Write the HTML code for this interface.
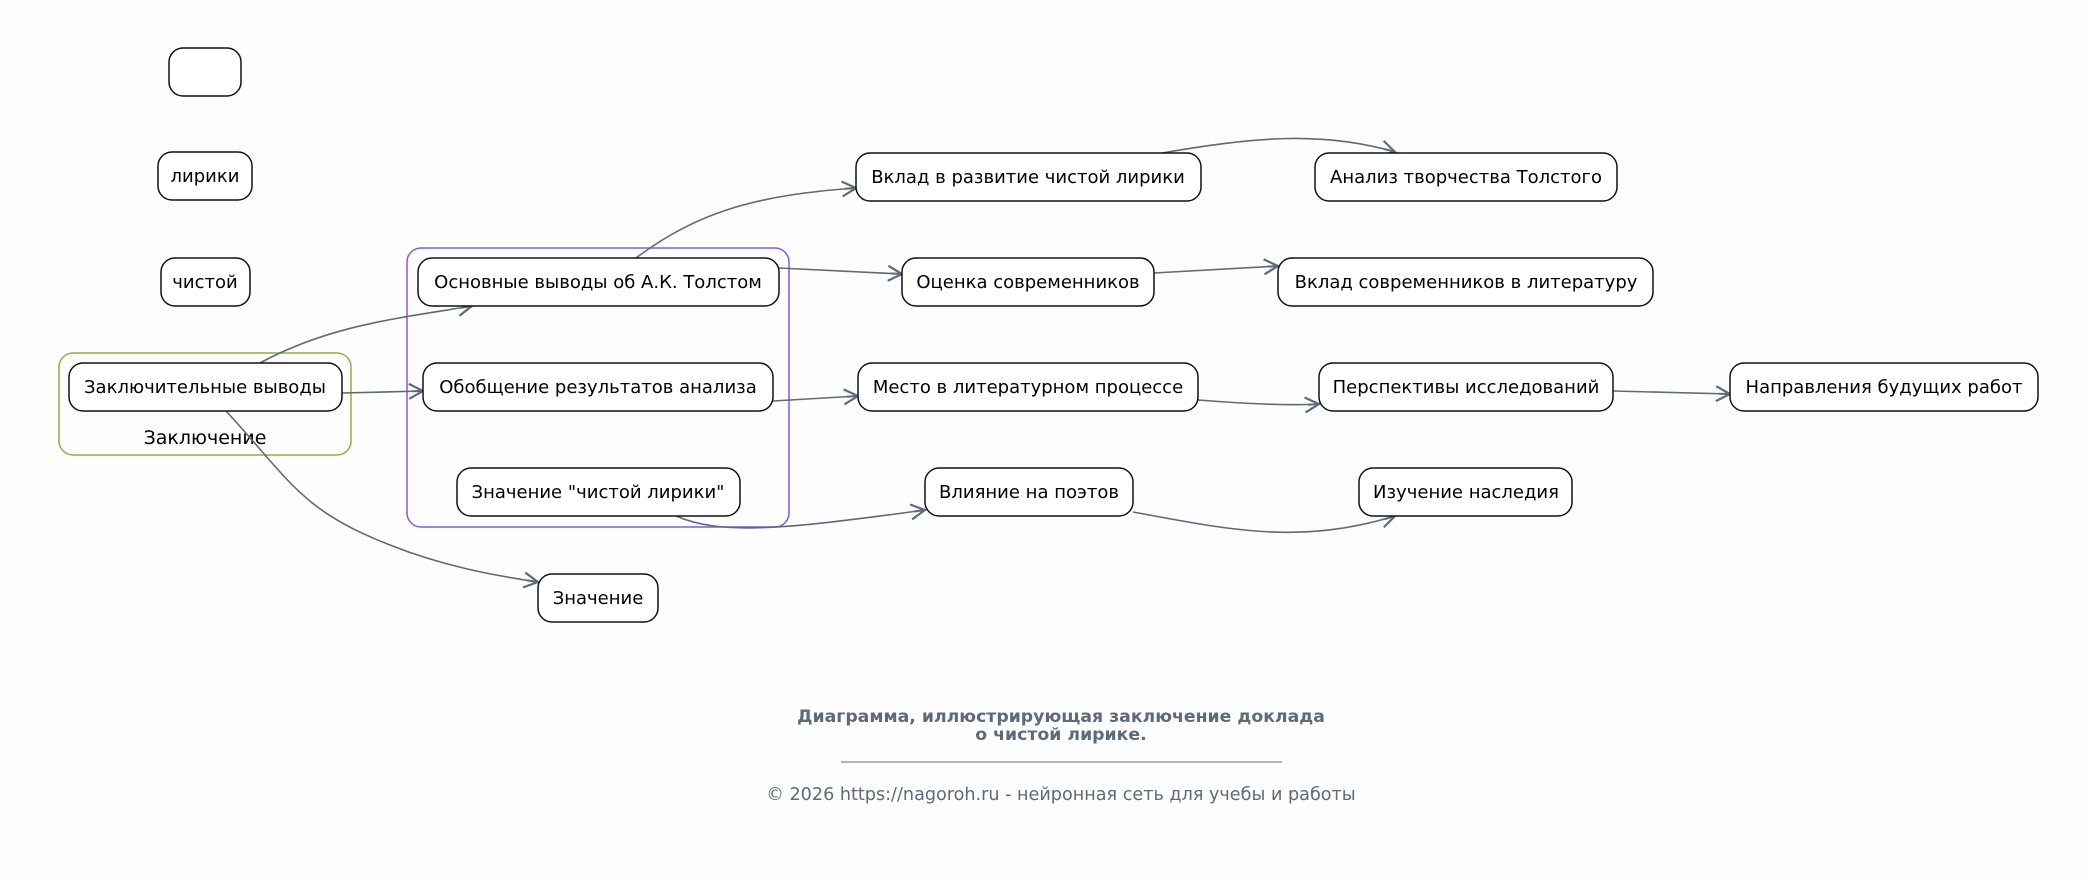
<!DOCTYPE html>
<html><head><meta charset="utf-8"><style>
html,body{margin:0;padding:0;background:#fdfdfd;}
svg{display:block;}
text{font-family:"DejaVu Sans","Liberation Sans",sans-serif;}
</style></head><body>
<svg width="2087" height="879" viewBox="0 0 2087 879" xmlns="http://www.w3.org/2000/svg">
<defs>
<marker id="a" viewBox="0 0 18 18" refX="16" refY="9" markerWidth="18" markerHeight="18" markerUnits="userSpaceOnUse" orient="auto">
<polyline points="2,1.5 16,9 2,16.5" fill="none" stroke="#5d6a78" stroke-width="2.2"/>
<line x1="5" y1="9" x2="16" y2="9" stroke="#5d6a78" stroke-width="2"/>
</marker>
</defs>
<rect width="2087" height="879" fill="#fdfdfd"/>
<rect x="59" y="353" width="292" height="102" rx="14" fill="none" stroke="#8db040" stroke-width="1.5"/>
<text x="205" y="444" font-size="19" text-anchor="middle" fill="#000">Заключение</text>
<rect x="407" y="248" width="382" height="279" rx="14" fill="none" stroke="#8a5ad6" stroke-width="1.5"/>
<g fill="none" stroke="#5d6a78" stroke-width="1.6">
<path d="M260,363 C330,325 400,318 472,306" marker-end="url(#a)"/>
<path d="M342,393 L423,391" marker-end="url(#a)"/>
<path d="M226,411 C290,480 300,510 390,545 C440,565 490,575 538,582" marker-end="url(#a)"/>
<path d="M636,258 C700,210 760,195 856,188" marker-end="url(#a)"/>
<path d="M779,268 L902,274" marker-end="url(#a)"/>
<path d="M773,401 L858,396" marker-end="url(#a)"/>
<path d="M676,516 C720,535 780,530 925,510" marker-end="url(#a)"/>
<path d="M1162,153 C1250,138 1320,130 1395,152" marker-end="url(#a)"/>
<path d="M1154,273 L1278,266" marker-end="url(#a)"/>
<path d="M1198,400 C1250,404 1290,406 1319,404" marker-end="url(#a)"/>
<path d="M1613,391 L1730,394" marker-end="url(#a)"/>
<path d="M1133,512 C1230,530 1300,545 1395,516" marker-end="url(#a)"/>
</g>
<g fill="#fff" stroke="#111" stroke-width="1.5">
<rect x="169" y="48" width="72" height="48" rx="14"/>
<rect x="158" y="152" width="94" height="48" rx="14"/>
<rect x="161" y="258" width="89" height="48" rx="14"/>
<rect x="69" y="363" width="273" height="48" rx="14"/>
<rect x="418" y="258" width="361" height="48" rx="14"/>
<rect x="423" y="363" width="350" height="48" rx="14"/>
<rect x="457" y="468" width="283" height="48" rx="14"/>
<rect x="538" y="574" width="120" height="48" rx="14"/>
<rect x="856" y="153" width="345" height="48" rx="14"/>
<rect x="1315" y="153" width="302" height="48" rx="14"/>
<rect x="902" y="258" width="252" height="48" rx="14"/>
<rect x="1278" y="258" width="375" height="48" rx="14"/>
<rect x="858" y="363" width="340" height="48" rx="14"/>
<rect x="1319" y="363" width="294" height="48" rx="14"/>
<rect x="1730" y="363" width="308" height="48" rx="14"/>
<rect x="925" y="468" width="208" height="48" rx="14"/>
<rect x="1359" y="468" width="213" height="48" rx="14"/>
</g>
<g font-size="18" text-anchor="middle" fill="#000">
<text x="205" y="182">лирики</text>
<text x="205" y="288">чистой</text>
<text x="205" y="393">Заключительные выводы</text>
<text x="598" y="288">Основные выводы об А.К. Толстом</text>
<text x="598" y="393">Обобщение результатов анализа</text>
<text x="598" y="498">Значение "чистой лирики"</text>
<text x="598" y="604">Значение</text>
<text x="1028" y="183">Вклад в развитие чистой лирики</text>
<text x="1466" y="183">Анализ творчества Толстого</text>
<text x="1028" y="288">Оценка современников</text>
<text x="1466" y="288">Вклад современников в литературу</text>
<text x="1028" y="393">Место в литературном процессе</text>
<text x="1466" y="393">Перспективы исследований</text>
<text x="1884" y="393">Направления будущих работ</text>
<text x="1029" y="498">Влияние на поэтов</text>
<text x="1466" y="498">Изучение наследия</text>
</g>
<g text-anchor="middle" fill="#5d6a78">
<text x="1061" y="722" font-size="17.3" font-weight="bold">Диаграмма, иллюстрирующая заключение доклада</text>
<text x="1061" y="740" font-size="17.3" font-weight="bold">о чистой лирике.</text>
<line x1="841" y1="762" x2="1282" y2="762" stroke="#5d6a78" stroke-width="1"/>
<text x="1061" y="800" font-size="17.6">© 2026 https://nagoroh.ru - нейронная сеть для учебы и работы</text>
</g>
</svg>
</body></html>
